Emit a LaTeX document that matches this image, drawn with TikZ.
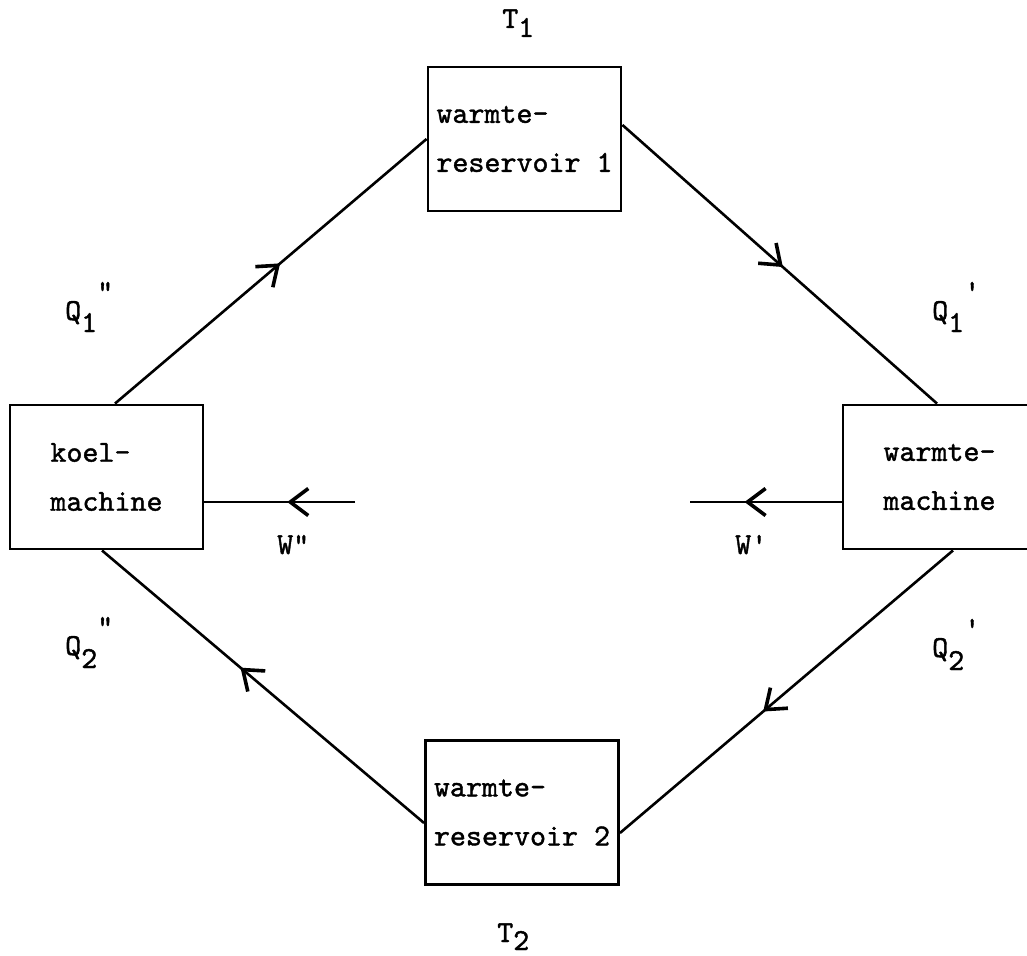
\documentclass[tikz,border=0pt]{standalone}
\usepackage{fontspec}
\newfontfamily\tw[FakeBold=1.3]{lmmono10-regular.otf}
\usetikzlibrary{arrows.meta,decorations.markings}
\begin{document}
\begin{tikzpicture}[x=1pt,y=-1pt,
  txt/.style={font=\tw\fontsize{30.5}{49}\selectfont, inner sep=0pt},
  box/.style={txt, draw, line width=2.9pt, minimum width=193pt, minimum height=144pt, align=left},
  lbl/.style={txt, anchor=base west},
  flow/.style={line width=2.6pt},
  midarrow/.style={postaction={decorate}, decoration={markings,
    mark=at position #1 with {\arrow{Straight Barb[length=18pt,width=27pt,line width=3.6pt]}}}}
]
\useasboundingbox (0,0) rectangle (1027,955);

% reservoirs and machines
\node[box] (res1) at (524.5,139) {warmte-\\reservoir 1};
\node[box] (koel) at (106.5,477) {koel-\\machine};
\node[box] (heat) at (939.5,477) {warmte-\\machine};
\node[box] (res2) at (522,812.5) {warmte-\\reservoir 2};

% free ends of the work arrows
\coordinate (wk) at (355,502);
\coordinate (wh) at (690,502);

% heat flows
\draw[flow, midarrow=0.53] ([xshift=8.5pt]koel.north) -- (res1.west);
\draw[flow, midarrow=0.51] ([yshift=14pt]res1.east) -- ([xshift=-2.5pt]heat.north);
\draw[flow, midarrow=0.57] ([xshift=13.5pt]heat.south) -- ([yshift=-20.5pt]res2.east);
\draw[flow, midarrow=0.57] ([yshift=-10.5pt]res2.west) -- ([xshift=-4.5pt]koel.south);

% work
\draw[flow, midarrow=0.45] (wk) -- (koel.east |- wk);
\draw[flow, midarrow=0.64] (heat.west |- wh) -- (wh);

% labels
\node[lbl] (t1) at (502,28) {T\raisebox{-9pt}{1}};
\node[lbl] (t2) at (497,942) {T\raisebox{-8pt}{2}};
\node[lbl] (q1a) at (65,320) {Q\raisebox{-12pt}{1}\raisebox{19pt}{\symbol{34}}};
\node[lbl] (q1b) at (932,320) {Q\raisebox{-12pt}{1}\raisebox{19pt}{\symbol{39}}};
\node[lbl] (q2a) at (65,655) {Q\raisebox{-13pt}{2}\raisebox{19pt}{\symbol{34}}};
\node[lbl] (q2b) at (932,657) {Q\raisebox{-13pt}{2}\raisebox{19pt}{\symbol{39}}};
\node[lbl] (wa) at (277,554) {W\symbol{34}};
\node[lbl] (wb) at (735,554) {W\symbol{39}};
\end{tikzpicture}
\end{document}
